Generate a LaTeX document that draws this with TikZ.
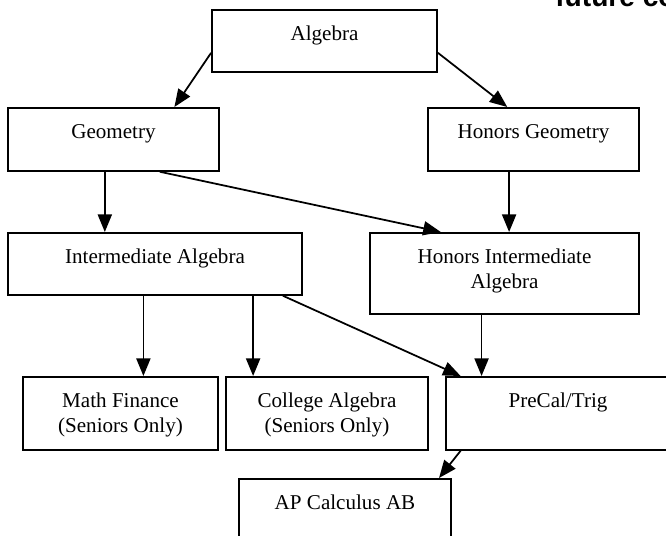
\documentclass[tikz,border=0pt]{standalone}
\usepackage{fontspec}
\setmainfont{Liberation Serif}
\setsansfont{Liberation Sans}
\usetikzlibrary{arrows.meta}

\begin{document}
\begin{tikzpicture}[x=0.02cm, y=-0.02cm,
    course/.style={draw, line width=1pt, anchor=north, align=center, inner sep=0pt,
        font=\fontsize{12}{13.8}\selectfont, text height=0.62cm},
    twoline/.style={text height=1.107cm},
    link/.style={-{Triangle[length=10pt,width=8pt]}, line width=1pt}]

    \useasboundingbox (0,0) rectangle (666,536);
    \clip (0,0) rectangle (666,536);

    \node[anchor=base west, inner sep=0pt, font=\sffamily\bfseries\fontsize{16}{19}\selectfont] (note) at (555,7) {future co};

    \node[course, minimum width=4.5cm, text depth=0.62cm] (alg) at (324.5,9) {Algebra};
    \node[course, minimum width=4.22cm, text depth=0.64cm] (geo) at (113.5,107) {Geometry};
    \node[course, minimum width=4.22cm, text depth=0.64cm] (hgeo) at (533.5,107) {Honors Geometry};
    \node[course, minimum width=5.88cm, text depth=0.62cm] (ialg) at (155,232) {Intermediate Algebra};
    \node[course, twoline, minimum width=5.38cm, text depth=0.513cm] (hialg) at (504.5,232) {Honors Intermediate\\Algebra};
    \node[course, twoline, minimum width=3.9cm, text depth=0.353cm] (mfin) at (120.5,376) {Math Finance\\(Seniors Only)};
    \node[course, twoline, minimum width=4.04cm, text depth=0.353cm] (calg) at (327,376) {College Algebra\\(Seniors Only)};
    \node[course, minimum width=4.48cm, text depth=0.84cm] (precal) at (558,376) {PreCal/Trig};
    \node[course, minimum width=4.24cm, text depth=0.64cm] (apcalc) at (345,478) {AP Calculus AB};

    \draw[link] (alg.186) -- (geo.28);
    \draw[link] (alg.354) -- (hgeo.129);
    \draw[link] (geo.255) -- (geo.255 |- ialg.north);
    \draw[link] (geo.325) -- (hialg.147);
    \draw[link] (hgeo.233) -- (hgeo.233 |- hialg.north);
    \draw[link] (ialg.250) -- (ialg.250 |- mfin.north);
    \draw[link] (ialg.342) -- (ialg.342 |- calg.north);
    \draw[link] (ialg.346) -- (precal.159);
    \draw[link] (hialg.241) -- (hialg.241 |- precal.north);
    \draw[link] (precal.201) -- (apcalc.19);
\end{tikzpicture}
\end{document}
